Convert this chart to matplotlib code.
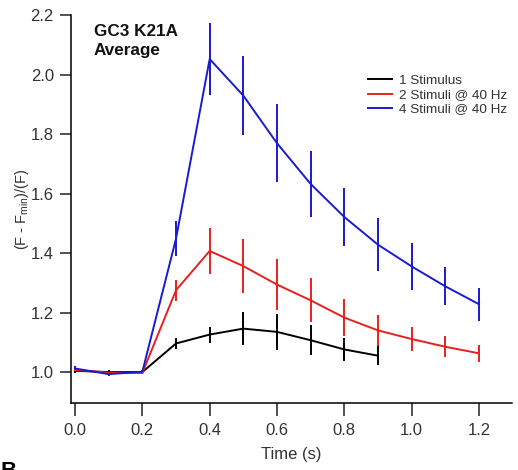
import matplotlib
matplotlib.use("Agg")
import matplotlib.pyplot as plt

plt.rcParams['font.family'] = ['Liberation Sans', 'DejaVu Sans']

time_1 = [0.0, 0.1, 0.2, 0.3, 0.4, 0.5, 0.6, 0.7, 0.8, 0.9]
mean_1 = [1.004, 1.000, 1.000, 1.096, 1.126, 1.146, 1.135, 1.107, 1.076, 1.055]
err_1 = [0.008, 0.006, 0.005, 0.020, 0.027, 0.056, 0.060, 0.050, 0.039, 0.032]

time_2 = [0.0, 0.1, 0.2, 0.3, 0.4, 0.5, 0.6, 0.7, 0.8, 0.9, 1.0, 1.1, 1.2]
mean_2 = [1.007, 0.998, 0.997, 1.275, 1.407, 1.356, 1.294, 1.241, 1.183, 1.140, 1.111, 1.085, 1.063]
err_2 = [0.008, 0.006, 0.005, 0.035, 0.076, 0.091, 0.086, 0.074, 0.063, 0.051, 0.041, 0.035, 0.028]

time_4 = [0.0, 0.1, 0.2, 0.3, 0.4, 0.5, 0.6, 0.7, 0.8, 0.9, 1.0, 1.1, 1.2]
mean_4 = [1.012, 0.993, 1.001, 1.448, 2.052, 1.929, 1.769, 1.632, 1.521, 1.428, 1.355, 1.288, 1.228]
err_4 = [0.008, 0.006, 0.005, 0.058, 0.120, 0.132, 0.131, 0.112, 0.096, 0.090, 0.078, 0.064, 0.056]

labels = ["1 Stimulus", "2 Stimuli @ 40 Hz", "4 Stimuli @ 40 Hz"]
colors = ["#000000", "#e8201c", "#1a1ad0"]

x_ticks = [0.0, 0.2, 0.4, 0.6, 0.8, 1.0, 1.2]
y_ticks = [1.0, 1.2, 1.4, 1.6, 1.8, 2.0, 2.2]

fig = plt.figure(figsize=(5.18, 4.70), dpi=100)
ax = fig.add_axes([70.5/518, 1 - 403/470, (512-70.5)/518, (403-15)/470])

series = [(time_1, mean_1, err_1), (time_2, mean_2, err_2), (time_4, mean_4, err_4)]
handles = []
for (t, m, e), c, lab in zip(series, colors, labels):
    h = ax.errorbar(t, m, yerr=e, color=c, lw=1.4, elinewidth=1.4, capsize=0, label=lab)
    handles.append(h.lines[0])

ax.set_xlim(-0.0134, 1.298)
ax.set_ylim(0.896, 2.2)
ax.set_xticks(x_ticks)
ax.set_xticklabels([f"{v:.1f}" for v in x_ticks])
ax.set_yticks(y_ticks)
ax.set_yticklabels([f"{v:.1f}" for v in y_ticks])
for s in ['top', 'right']:
    ax.spines[s].set_visible(False)
for s in ['left', 'bottom']:
    ax.spines[s].set_linewidth(1.1)
ax.tick_params(axis='x', direction='out', length=9.5, width=1.1, labelsize=12, colors='#222222', pad=5)
ax.tick_params(axis='y', direction='out', length=8, width=1.1, labelsize=12, colors='#222222', pad=4)
for lab in ax.get_xticklabels() + ax.get_yticklabels():
    lab.set_color('#333333')

ax.set_xlabel("Time (s)", fontsize=12, color='#333333')
ax.xaxis.set_label_coords(0.5, -(455 - 403) / 388, transform=ax.transAxes)
ax.xaxis.label.set_va('center')
ax.set_ylabel("(F - F$_{\\mathregular{min}}$)/(F)", fontsize=10.5, color='#333333')
ax.yaxis.set_label_coords(-(70.5 - 22) / 441.5, 0.5, transform=ax.transAxes)
ax.yaxis.label.set_va('center')

ax.text(94/518, 1 - 24/470, "GC3 K21A\nAverage", transform=fig.transFigure,
        fontsize=12.3, fontweight='bold', va='top', ha='left', linespacing=1.32, color='#111111')

leg = ax.legend(handles, labels, loc='upper left', bbox_to_anchor=((368 - 70.5) / 441.5, 1 - (74.5 - 15) / 388),
                frameon=False, fontsize=9.7, handlelength=1.8, handletextpad=0.5,
                labelspacing=0.14, borderaxespad=0, borderpad=0)
for t in leg.get_texts():
    t.set_color('#333333')

fig.text(0.0, 1 - 461/470, "B", fontsize=16, fontweight='bold', va='top', ha='left')

fig.savefig("out.png", dpi=100)
